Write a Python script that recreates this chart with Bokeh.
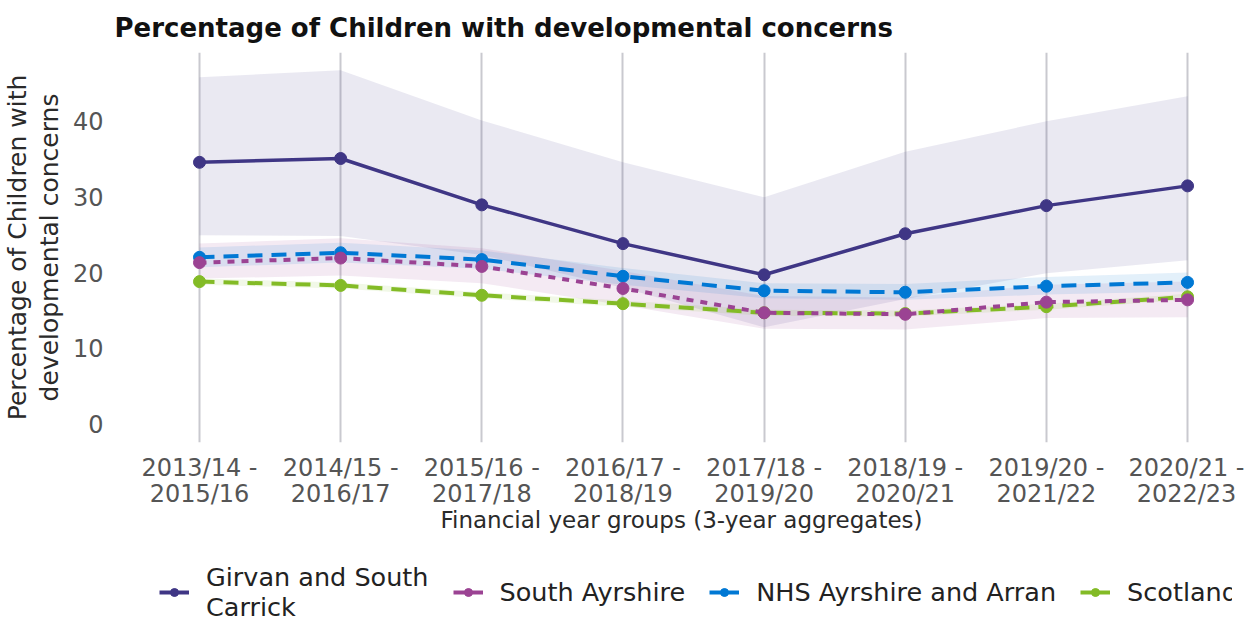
from bokeh.plotting import figure
from bokeh.layouts import column
from bokeh.models import Legend, LegendItem, FixedTicker, Range1d
from bokeh.embed import file_html
from bokeh.resources import INLINE

periods = ["2013/14 -\n2015/16", "2014/15 -\n2016/17", "2015/16 -\n2017/18", "2016/17 -\n2018/19",
           "2017/18 -\n2019/20", "2018/19 -\n2020/21", "2019/20 -\n2021/22", "2020/21 -\n2022/23"]
xs = list(range(len(periods)))

girvan = [34.5, 35.0, 28.9, 23.8, 19.7, 25.1, 28.8, 31.4]
girvan_upper = [45.7, 46.6, 40.0, 34.5, 29.9, 35.9, 39.9, 43.2]
girvan_lower = [24.9, 24.8, 22.3, 18.0, 12.8, 16.5, 19.9, 21.6]

south_ayrshire = [21.3, 21.9, 20.8, 17.9, 14.7, 14.5, 16.1, 16.4]
sa_upper = [23.8, 24.5, 23.2, 20.2, 16.9, 16.7, 18.4, 18.8]
sa_lower = [19.2, 19.6, 18.6, 15.7, 12.6, 12.5, 14.0, 14.1]

nhs = [22.0, 22.6, 21.7, 19.5, 17.6, 17.4, 18.2, 18.7]
nhs_upper = [23.3, 23.9, 22.9, 20.6, 18.6, 18.5, 19.4, 20.0]
nhs_lower = [20.7, 21.3, 20.5, 18.4, 16.6, 16.4, 17.1, 17.5]

scotland = [18.8, 18.3, 17.0, 15.9, 14.7, 14.6, 15.5, 16.8]
scot_upper = [19.2, 18.7, 17.4, 16.3, 15.1, 15.0, 15.9, 17.2]
scot_lower = [18.4, 17.9, 16.6, 15.5, 14.3, 14.2, 15.1, 16.4]

names = ["Girvan and South\nCarrick", "South Ayrshire", "NHS Ayrshire and Arran", "Scotland"]
colors = ["#3F3685", "#9B4393", "#0078D4", "#83BB26"]
dashes = ["solid", "7 7", "15 9", "15 9"]

p = figure(frame_width=1116, frame_height=390, output_backend="svg", toolbar_location=None,
           x_range=Range1d(-0.5385, 7.368), y_range=Range1d(-2.37, 48.95),
           min_border_left=116, min_border_right=5, min_border_top=52, min_border_bottom=100)

p.title.text = "Percentage of Children with developmental concerns"
p.title.text_font = "DejaVu Sans"
p.title.text_font_size = "26px"
p.title.text_font_style = "bold"
p.title.text_color = "#111111"
p.title.offset = -9
p.title.standoff = 20

p.outline_line_color = None
p.ygrid.grid_line_color = None
p.xgrid.grid_line_color = "#c9c9cf"
p.xgrid.grid_line_width = 2

p.xaxis.ticker = FixedTicker(ticks=xs)
p.xaxis.major_label_overrides = {i: lab for i, lab in enumerate(periods)}
p.yaxis.ticker = FixedTicker(ticks=[0, 10, 20, 30, 40])
for ax in (p.xaxis, p.yaxis):
    ax.axis_line_color = None
    ax.major_tick_line_color = None
    ax.minor_tick_line_color = None
    ax.major_label_text_font = "DejaVu Sans"
    ax.major_label_text_font_size = "24px"
    ax.major_label_text_line_height = 0.95
    ax.major_label_text_color = "#555555"
    ax.axis_label_text_font = "DejaVu Sans"
    ax.axis_label_text_font_style = "normal"
    ax.axis_label_text_color = "#2a2a2a"
p.xaxis.axis_label_text_font_size = "23px"
p.yaxis.axis_label_text_font_size = "25px"
p.yaxis.axis_label_text_line_height = 1.1
p.xaxis.axis_label = "Financial year groups (3-year aggregates)"
p.yaxis.axis_label = "Percentage of Children with\ndevelopmental concerns"
p.xaxis.major_label_standoff = 5
p.yaxis.major_label_standoff = 14
p.xaxis.axis_label_standoff = -4
p.yaxis.axis_label_standoff = 6

bands = [(girvan_lower, girvan_upper), (sa_lower, sa_upper), (nhs_lower, nhs_upper), (scot_lower, scot_upper)]
series = [girvan, south_ayrshire, nhs, scotland]

for (lo, hi), c in zip(bands, colors):
    p.varea(x=xs, y1=lo, y2=hi, fill_color=c, fill_alpha=0.11)

for i in [3, 2, 1, 0]:
    p.line(xs, series[i], line_color=colors[i], line_width=4 if i else 3.5, line_dash=dashes[i])
    p.scatter(xs, series[i], size=12, fill_color=colors[i], line_color=colors[i])

# legend drawn in its own strip below the chart (its renderers lie outside the strip's range)
lf = figure(width=1237, height=80, output_backend="svg", toolbar_location=None,
            x_range=Range1d(0, 1), y_range=Range1d(1000, 1001), min_border=0)
lf.axis.visible = False
lf.grid.grid_line_color = None
lf.outline_line_color = None
items = []
for i in range(4):
    ln = lf.line(xs, series[i], line_color=colors[i], line_width=4)
    sc = lf.scatter(xs, series[i], size=12, fill_color=colors[i], line_color=colors[i])
    items.append(LegendItem(label=names[i], renderers=[ln, sc]))

legend = Legend(items=items, orientation="horizontal", location=(36, 0),
                label_text_font="DejaVu Sans", label_text_font_size="25.5px",
                label_text_line_height=1.0, label_text_color="#222222",
                glyph_width=30, glyph_height=20, spacing=24, label_standoff=17,
                background_fill_alpha=0, border_line_color=None, margin=0, padding=0)
lf.add_layout(legend, "center")

layout = column(p, lf, spacing=0)
open("out.html", "w").write(file_html(layout, INLINE))
